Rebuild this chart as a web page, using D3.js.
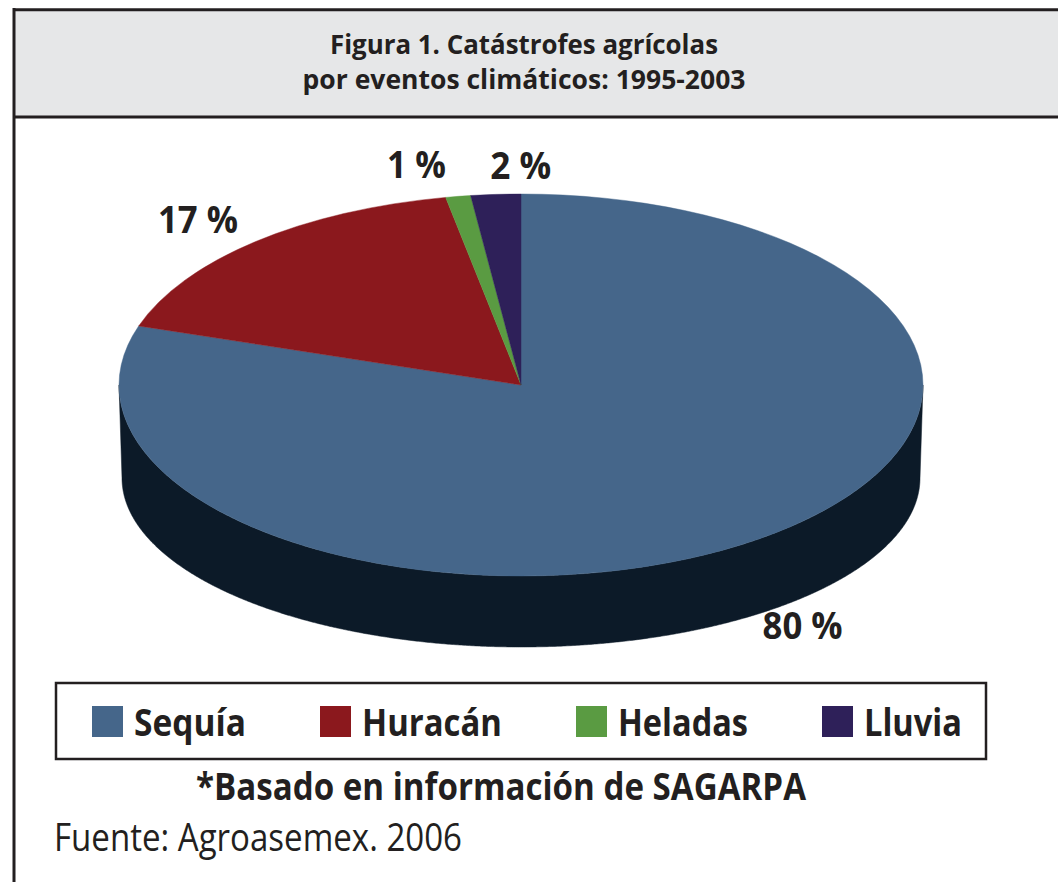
<!DOCTYPE html>
<html>
<head>
<meta charset="utf-8">
<script src="https://cdn.jsdelivr.net/npm/d3@7"></script>
<style>
  html, body { margin: 0; padding: 0; background: #fff; }
  svg { display: block; }
  text { fill: #231f20; font-family: "Open Sans", "Noto Sans", sans-serif; }
</style>
</head>
<body>
<script>
(function(){

//chart data
var categories = ["Sequía", "Huracán", "Heladas", "Lluvia"];
var values = [80, 17, 1, 2];
var valueLabels = ["80 %", "17 %", "1 %", "2 %"];
var titleLines = ["Figura 1. Catástrofes agrícolas", "por eventos climáticos: 1995-2003"];
var noteText = "*Basado en información de SAGARPA";
var sourceText = "Fuente: Agroasemex. 2006";

//styles
var colors = ["#45668a", "#8b181d", "#5a9b42", "#2e2059"];
var sideColors = ["#0c1a28", "#3a0a0c", "#24401b", "#120d26"];
var ink = "#231f20";

var width = 1058,
    height = 882;

var svg = d3.select("body")
    .append("svg")
    .attr("width", width)
    .attr("height", height);

//frame and header band
svg.append("rect")
    .attr("x", 14).attr("y", 10)
    .attr("width", width).attr("height", 107)
    .style("fill", "#e6e7e8");
svg.append("line")
    .attr("x1", 14).attr("x2", width)
    .attr("y1", 9.7).attr("y2", 9.7)
    .style("stroke", ink).style("stroke-width", 3);
svg.append("line")
    .attr("x1", 14).attr("x2", width)
    .attr("y1", 117).attr("y2", 117)
    .style("stroke", ink).style("stroke-width", 3);
svg.append("line")
    .attr("x1", 14).attr("x2", 14)
    .attr("y1", 8).attr("y2", height)
    .style("stroke", ink).style("stroke-width", 3);

//title
var titleWidths = [388, 443];
svg.selectAll(".title")
    .data(titleLines)
    .enter()
    .append("text")
    .attr("class", "title")
    .attr("x", 524)
    .attr("y", function(d, i){ return 54 + i * 35; })
    .attr("text-anchor", "middle")
    .attr("textLength", function(d, i){ return titleWidths[i]; })
    .attr("lengthAdjust", "spacingAndGlyphs")
    .style("font-size", "26px")
    .style("font-weight", 700)
    .text(function(d){ return d; });

//pie geometry: top ellipse and bottom ellipse of the cylinder
var cx = 521, cy = 385, rx = 402, ry = 191;
var cyb = 478, rxb = 399, ryb = 169;

var pie = d3.pie().sort(null).value(function(d){ return d; });
var arcsData = pie(values);

function topPt(a){ return [cx + rx * Math.sin(a), cy - ry * Math.cos(a)]; }
function botPt(a){ return [cx + rxb * Math.sin(a), cyb - ryb * Math.cos(a)]; }

var line = d3.line();

//front side: only angles between 90 and 270 degrees are visible
var sideGroup = svg.append("g").attr("class", "side");
arcsData.forEach(function(d){
    var a0 = Math.max(d.startAngle, Math.PI / 2),
        a1 = Math.min(d.endAngle, 3 * Math.PI / 2);
    if (a1 <= a0) return;
    var steps = d3.range(a0, a1, 0.005).concat([a1]);
    var pts = steps.map(topPt).concat(steps.slice().reverse().map(botPt));
    sideGroup.append("path")
        .attr("d", line(pts) + "Z")
        .style("fill", sideColors[d.index])
        .style("stroke", sideColors[d.index])
        .style("stroke-width", 0.5);
});

//top face: d3.arc squashed into an ellipse
var arc = d3.arc().innerRadius(0).outerRadius(rx);
svg.append("g")
    .attr("transform", "translate(" + cx + "," + cy + ") scale(1," + (ry / rx) + ")")
    .selectAll(".slice")
    .data(arcsData)
    .enter()
    .append("path")
    .attr("class", function(d){ return "slice " + categories[d.index]; })
    .attr("d", arc)
    .style("fill", function(d){ return colors[d.index]; })
    .style("stroke", function(d){ return colors[d.index]; })
    .style("stroke-width", 0.6);

//value labels, placed outside the rim then nudged like the original
var labelNudge = [[-2, 55], [-4, 7], [-29, 6], [30, 9]];
var labelWidths = [80, 80, 59, 61];
svg.selectAll(".value")
    .data(arcsData)
    .enter()
    .append("text")
    .attr("class", "value")
    .attr("x", function(d){
        var m = (d.startAngle + d.endAngle) / 2;
        return cx + 1.2 * rx * Math.sin(m) + labelNudge[d.index][0];
    })
    .attr("y", function(d){
        var m = (d.startAngle + d.endAngle) / 2;
        return cy - 1.2 * ry * Math.cos(m) + labelNudge[d.index][1];
    })
    .attr("dy", "0.36em")
    .attr("text-anchor", "middle")
    .attr("textLength", function(d){ return labelWidths[d.index]; })
    .attr("lengthAdjust", "spacingAndGlyphs")
    .style("font-size", "37px")
    .style("font-weight", 700)
    .text(function(d){ return valueLabels[d.index]; });

//legend
svg.append("rect")
    .attr("x", 56).attr("y", 683)
    .attr("width", 930).attr("height", 76)
    .style("fill", "#fff")
    .style("stroke", ink)
    .style("stroke-width", 2.5);

var legendWidths = [112, 140, 130, 98];
var lx = 92;
categories.forEach(function(c, i){
    svg.append("rect")
        .attr("x", lx).attr("y", 706)
        .attr("width", 31).attr("height", 31)
        .style("fill", colors[i]);
    svg.append("text")
        .attr("x", lx + 42).attr("y", 736)
        .attr("textLength", legendWidths[i])
        .attr("lengthAdjust", "spacingAndGlyphs")
        .style("font-size", "38px")
        .style("font-weight", 700)
        .text(c);
    lx += 42 + legendWidths[i] + 74;
});

//note and source
svg.append("text")
    .attr("x", 501).attr("y", 800)
    .attr("text-anchor", "middle")
    .attr("textLength", 610)
    .attr("lengthAdjust", "spacingAndGlyphs")
    .style("font-size", "38px")
    .style("font-weight", 700)
    .text(noteText);

svg.append("text")
    .attr("x", 54).attr("y", 851)
    .attr("textLength", 408)
    .attr("lengthAdjust", "spacingAndGlyphs")
    .style("font-size", "38px")
    .style("font-weight", 400)
    .text(sourceText);

})();
</script>
</body>
</html>
